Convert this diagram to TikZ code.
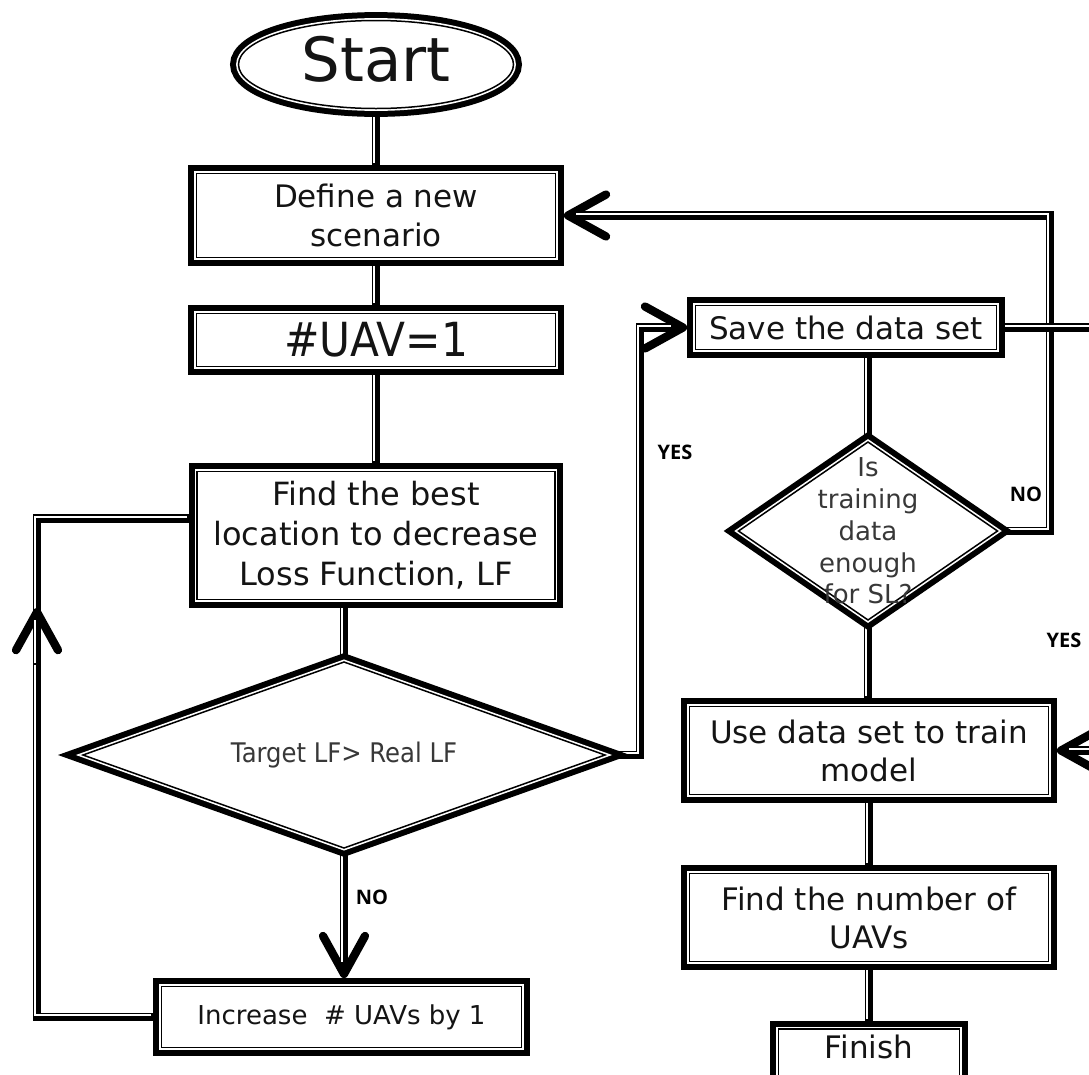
\documentclass[tikz,border=0pt]{standalone}
\usepackage{fontspec}
\setmainfont{DejaVu Sans}
\newfontfamily\lblfont{Open Sans}
\usetikzlibrary{shapes.geometric, arrows.meta, calc}
\pgfdeclarelayer{bg}
\pgfsetlayers{bg,main}
\newcommand\setfs[2]{\fontsize{#1}{#2}\selectfont}

\begin{document}
\begin{tikzpicture}[x=1pt, y=-1pt,
  % framed shape: thick outer rim, thin white gap, thin inner line
  frame/.style={draw=black, line width=1.5pt, fill=white, text=black!92,
    inner sep=0pt, align=center, line join=miter,
    preaction={draw=black, line width=16.8pt},
    preaction={fill=white},
    preaction={draw=white, line width=4.8pt}},
  box/.style={frame, rectangle, outer sep=8.4pt},
  decision/.style={frame, diamond, outer sep=0pt},
  % connectors: heavy line with a thin white groove on its upper/left side
  conn/.style={draw=black, line width=8.3pt, line cap=butt, line join=miter,
    postaction={draw=white, line width=1.8pt, -, transform canvas={shift={(-1.75,-1.75)}}}},
  connarr/.style={draw=black, line width=8.3pt, line cap=butt, line join=miter,
    -{Straight Barb[length=38pt, width=42pt, line cap=round, line join=round]},
    postaction={draw=white, line width=1.8pt, -, shorten >=14pt,
      transform canvas={shift={(-1.75,-1.75)}}}},
  lbl/.style={font=\lblfont\bfseries\setfs{20}{22}, text=black, inner sep=0pt},
  dtext/.style={text=black!78, align=center, inner sep=0pt}
]
\useasboundingbox (0,0) rectangle (1089,1074);
\clip (0,0) rectangle (1089,1074);

% ---- left column ----
\node[frame, ellipse, minimum width=275pt, minimum height=88pt, outer sep=8.4pt,
      text depth=12pt, font=\setfs{61}{72}] (start) at (376,64.5) {Start};
\node[box, minimum width=359pt, minimum height=84pt, font=\setfs{31}{39}]
      (define) at (376,215.5) {Define a new\\scenario};
\node[box, minimum width=359pt, minimum height=53pt, font=\setfs{47}{56}]
      (uav1) at (376,340) {\scalebox{0.9}[1]{\#UAV=1}};
\node[box, minimum width=358pt, minimum height=128pt, font=\setfs{32}{40}]
      (find) at (376,535.5) {Find the best\\location to decrease\\Loss Function, LF};
\node[decision, minimum width=522pt, minimum height=186pt] (d1) at (344,755) {};
\node[dtext, font=\setfs{27}{32}] (d1txt) at (d1.center) {\scalebox{0.9}[1]{Target LF> Real LF}};
\node[box, minimum width=360pt, minimum height=61pt, font=\setfs{26}{32}]
      (inc) at (341.5,1017) {Increase \ \# UAVs by 1};

% ---- right column ----
\node[box, minimum width=301pt, minimum height=44pt, font=\setfs{31}{38}]
      (save) at (846,327.5) {Save the data set};
\node[decision, minimum width=259pt, minimum height=178pt] (d2) at (868,531) {};
\node[dtext, font=\setfs{26}{31.75}] (d2txt) at (d2.center)
      {Is\\training\\data\\enough\\for SL?};
\node[box, minimum width=359pt, minimum height=88pt, font=\setfs{31}{38}]
      (use) at (869,750.5) {Use data set to train\\model};
\node[box, minimum width=359pt, minimum height=88pt, font=\setfs{31}{38}]
      (number) at (869,917.5) {Find the number of\\UAVs};
\node[box, minimum width=181pt, minimum height=48pt, text depth=12pt, font=\setfs{31}{38}]
      (finish) at (869,1053) {Finish};

% ---- branch labels ----
\node[lbl] (yes1) at (675,452) {YES};
\node[lbl] (no1) at (372,897) {NO};
\node[lbl] (no2) at (1026,494) {NO};
\node[lbl] (yes2) at (1064,640) {YES};

% ---- routing points ----
\coordinate (loopx) at (37,0);
\coordinate (findin) at ($(find.west)+(0,-17)$);
\coordinate (uptip) at (37,608);
\coordinate (upfrom) at (37,665);
\coordinate (joinx) at (640,0);
\coordinate (backx) at (1050,0);
\coordinate (offx) at (1110,0);

% ---- connectors, underneath the shapes ----
\begin{pgfonlayer}{bg}
\clip (0,0) rectangle (1089,1074);
\draw[conn] (start.south) -- (start.south |- define.north);
\draw[conn] (define.south) -- (define.south |- uav1.north);
\draw[conn] (uav1.south) -- (uav1.south |- find.north);
\draw[conn] (d1.north |- find.south) -- (d1.north);
\draw[connarr] (d1.south) -- (d1.south |- inc.north);
\draw[conn] (inc.west) -| (loopx |- findin) -- (findin);
\draw[connarr] (upfrom) -- (uptip);
\draw[connarr] (d1.east) -| (joinx |- save.west) -- (save.west);
\draw[conn] (d2.north |- save.south) -- (d2.north);
\draw[conn] (d2.south) -- (d2.south |- use.north);
\draw[conn] (use.south) -- (use.south |- number.north);
\draw[conn] (number.south) -- (number.south |- finish.north);
\draw[connarr] (d2.east) -| (backx |- define.east) -- (define.east);
\draw[connarr] (save.east) -- (offx |- save.east) -- (offx |- use.east) -- (use.east);
\end{pgfonlayer}
\end{tikzpicture}
\end{document}
